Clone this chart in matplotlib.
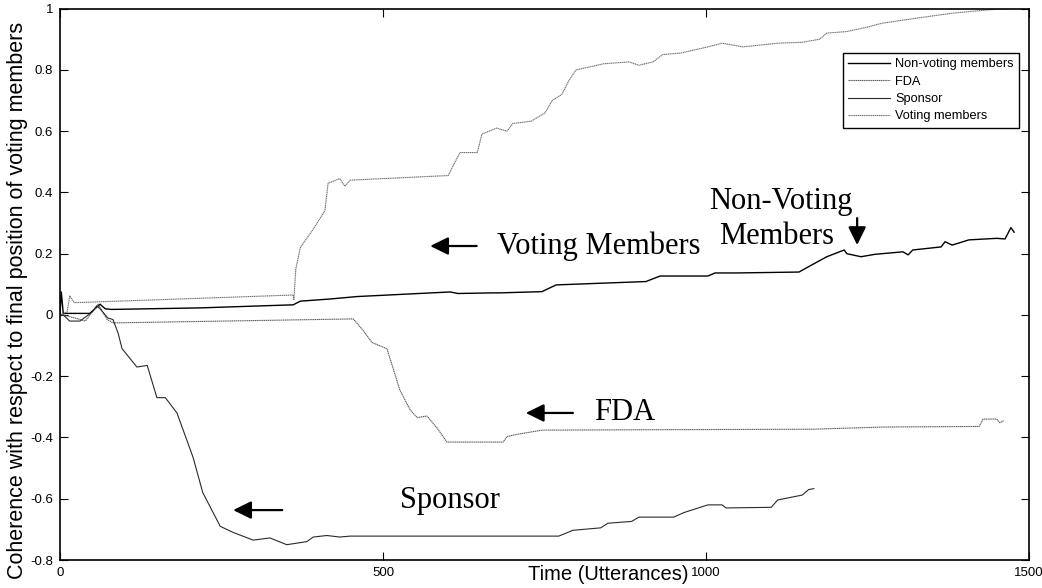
import numpy as np
import matplotlib
matplotlib.use("Agg")
import matplotlib.pyplot as plt

# values (time in utterances, coherence)
nonvoting_t = [0, 2, 5, 46, 62, 70, 80, 217, 361, 372, 418, 460, 604, 616, 670, 681,
               746, 768, 907, 929, 1003, 1014, 1046, 1144, 1155, 1187, 1214, 1218, 1240,
               1262, 1305, 1313, 1320, 1364, 1370, 1381, 1407, 1450, 1463, 1472, 1477]
nonvoting_y = [0.0, 0.075, 0.005, 0.005, 0.035, 0.02, 0.018, 0.023, 0.033, 0.045, 0.052,
               0.06, 0.075, 0.07, 0.072, 0.072, 0.076, 0.098, 0.109, 0.127, 0.127, 0.137,
               0.137, 0.14, 0.153, 0.19, 0.212, 0.20, 0.19, 0.198, 0.206, 0.196, 0.212,
               0.222, 0.239, 0.228, 0.245, 0.25, 0.248, 0.285, 0.27]

fda_t = [0, 5, 23, 39, 59, 73, 82, 454, 469, 483, 506, 515, 526, 542, 553, 568, 584,
         599, 686, 692, 707, 735, 746, 1166, 1272, 1423, 1429, 1450, 1455, 1461]
fda_y = [0.0, 0.0, -0.01, -0.02, 0.035, -0.015, -0.026, -0.013, -0.05, -0.09, -0.11,
         -0.17, -0.245, -0.31, -0.335, -0.33, -0.37, -0.415, -0.415, -0.397, -0.39,
         -0.38, -0.376, -0.373, -0.366, -0.364, -0.34, -0.34, -0.352, -0.345]

sponsor_t = [0, 5, 15, 31, 50, 57, 62, 74, 82, 90, 96, 119, 135, 150, 163, 181, 206,
             221, 248, 268, 299, 325, 351, 382, 392, 413, 433, 449, 772, 794, 837, 848,
             885, 896, 950, 966, 1003, 1025, 1031, 1101, 1111, 1149, 1159, 1167]
sponsor_y = [0.0, 0.0, -0.02, -0.02, 0.01, 0.03, 0.02, -0.01, -0.015, -0.06, -0.11,
             -0.17, -0.165, -0.27, -0.27, -0.32, -0.465, -0.58, -0.69, -0.71, -0.735,
             -0.728, -0.75, -0.74, -0.725, -0.72, -0.725, -0.722, -0.722, -0.703, -0.695,
             -0.68, -0.674, -0.66, -0.66, -0.645, -0.62, -0.62, -0.63, -0.628, -0.604,
             -0.588, -0.57, -0.567]

voting_t = [0, 11, 15, 22, 361, 362, 365, 372, 392, 410, 415, 433, 441, 449, 601, 619,
            646, 653, 676, 692, 701, 729, 751, 762, 777, 788, 799, 842, 881, 896, 918,
            933, 961, 1003, 1025, 1057, 1111, 1149, 1176, 1187, 1218, 1251, 1272, 1327,
            1381, 1433, 1463, 1480]
voting_y = [0.0, 0.01, 0.062, 0.04, 0.065, 0.05, 0.15, 0.22, 0.28, 0.34, 0.43, 0.445,
            0.42, 0.44, 0.455, 0.53, 0.53, 0.59, 0.61, 0.60, 0.625, 0.632, 0.66, 0.70,
            0.72, 0.766, 0.80, 0.82, 0.826, 0.815, 0.826, 0.85, 0.855, 0.875, 0.887,
            0.875, 0.887, 0.89, 0.90, 0.92, 0.925, 0.94, 0.952, 0.969, 0.985, 0.995,
            1.0, 1.0]

series_labels = ["Non-voting members", "FDA", "Sponsor", "Voting members"]

fig = plt.figure(figsize=(10.42, 5.88), dpi=100)
ax = fig.add_axes([0.0576, 0.0476, 0.9299, 0.9378])

ax.plot(nonvoting_t, nonvoting_y, color="black", lw=1.0, label=series_labels[0])
ax.plot(fda_t, fda_y, color="#5a5a5a", lw=0.8, ls=(0, (1.2, 0.5)), label=series_labels[1])
ax.plot(sponsor_t, sponsor_y, color="#2a2a2a", lw=0.8, label=series_labels[2])
ax.plot(voting_t, voting_y, color="#707070", lw=0.8, ls=(0, (1.2, 0.5)), label=series_labels[3])

ax.set_xlim(0, 1500)
ax.set_ylim(-0.8, 1)
ax.set_xticks([0, 500, 1000, 1500])
ax.set_yticks(np.round(np.arange(-0.8, 1.01, 0.2), 1))
ax.set_yticklabels(["-0.8", "-0.6", "-0.4", "-0.2", "0", "0.2", "0.4", "0.6", "0.8", "1"])
ax.tick_params(direction="in", length=6, width=0.8, top=True, right=True,
               labelsize=9.5, pad=5)
for lab in ax.get_xticklabels() + ax.get_yticklabels():
    lab.set_family("Liberation Sans")
for s in ax.spines.values():
    s.set_linewidth(1.2)

ax.set_xlabel("Time (Utterances)", fontsize=14.5, family="Liberation Sans")
ax.xaxis.set_label_coords(0.566, -0.009)
ax.set_ylabel("Coherence with respect to final position of voting members",
              fontsize=15.5, family="Liberation Sans")
ax.yaxis.set_label_coords(-0.0335, 0.471)

leg = ax.legend(loc="upper right", bbox_to_anchor=(0.9897, 0.919), borderaxespad=0,
                fancybox=False, edgecolor="black", framealpha=1,
                prop={"family": "Liberation Sans", "size": 9.2},
                handlelength=3.3, handletextpad=0.4, labelspacing=0.42, borderpad=0.4)
leg.get_frame().set_linewidth(1.0)

arrow = dict(arrowstyle="-|>,head_length=0.55,head_width=0.27", lw=1.6, color="black",
             shrinkA=0, shrinkB=0, mutation_scale=20)
serif = dict(family="Liberation Serif", fontsize=22, va="center")

ax.annotate("", xy=(573, 0.225), xytext=(645, 0.225), arrowprops=arrow)
ax.text(676, 0.225, "Voting Members", ha="left", **serif)

ax.text(1005, 0.37, "Non-Voting", ha="left", **serif)
ax.text(1020, 0.255, "Members", ha="left", **serif)
ax.annotate("", xy=(1234, 0.228), xytext=(1234, 0.316), arrowprops=arrow)

ax.annotate("", xy=(721, -0.32), xytext=(794, -0.32), arrowprops=arrow)
ax.text(827, -0.32, "FDA", ha="left", **serif)

ax.annotate("", xy=(268, -0.637), xytext=(344, -0.637), arrowprops=arrow)
ax.text(526, -0.605, "Sponsor", ha="left", **serif)

fig.savefig("out.png", dpi=100)
